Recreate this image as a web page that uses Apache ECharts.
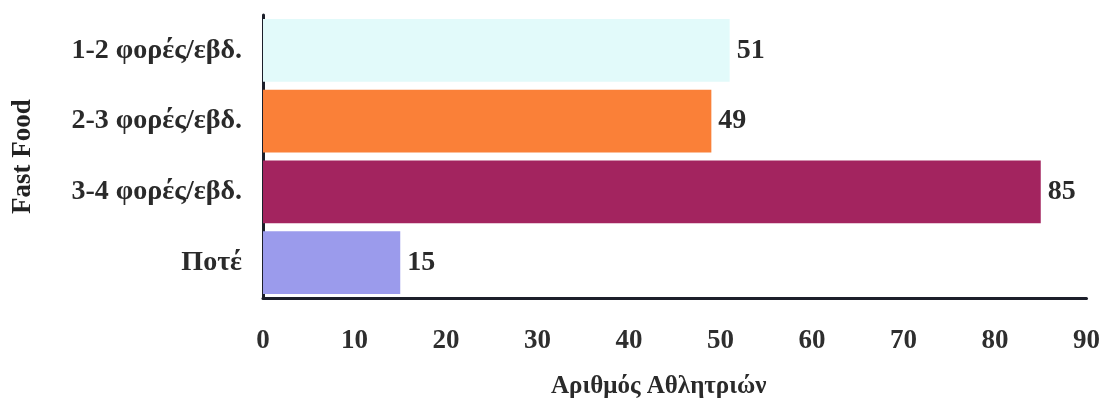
<!DOCTYPE html>
<html><head><meta charset="utf-8">
<script src="https://cdn.jsdelivr.net/npm/echarts@6/dist/echarts.min.js"></script>
<style>html,body{margin:0;padding:0;background:#fff}#c{width:1103px;height:404px}</style>
</head><body><div id="c"></div>
<script>
const categories = ['1-2 φορές/εβδ.', '2-3 φορές/εβδ.', '3-4 φορές/εβδ.', 'Ποτέ'];
const values = [51, 49, 85, 15];
const colors = ['#e2fafa', '#fa8038', '#a3245f', '#9b9bec'];
const xTicks = [0, 10, 20, 30, 40, 50, 60, 70, 80, 90];

const font = '"Liberation Serif", "DejaVu Serif", serif';
const chart = echarts.init(document.getElementById('c'));
chart.setOption({
  animation: false,
  grid: { left: 263, right: 16, top: 15, bottom: 106, containLabel: false },
  xAxis: {
    type: 'value', min: xTicks[0], max: xTicks[xTicks.length - 1], interval: 10,
    name: 'Αριθμός Αθλητριών', nameLocation: 'middle', nameGap: 76,
    nameTextStyle: { fontFamily: font, fontWeight: 'bold', fontSize: 25, color: '#2a2a2a', padding: [0, 32, 0, 0] },
    axisLine: { show: true, lineStyle: { color: '#1c1f2a', width: 3 } },
    axisTick: { show: false },
    splitLine: { show: false },
    axisLabel: { fontFamily: font, fontWeight: 'bold', fontSize: 27, color: '#2e2e2e', margin: 30 }
  },
  yAxis: {
    type: 'category', data: categories, inverse: true,
    name: 'Fast Food', nameLocation: 'middle', nameGap: 226, nameRotate: 90,
    nameTextStyle: { fontFamily: font, fontWeight: 'bold', fontSize: 27, color: '#222' },
    axisLine: { show: true, lineStyle: { color: '#1c1f2a', width: 3 } },
    axisTick: { show: false },
    axisLabel: { fontFamily: font, fontWeight: 'bold', fontSize: 28, color: '#2a2a2a', margin: 21 }
  },
  series: [{
    type: 'bar',
    data: values.map((v, i) => ({ value: v, itemStyle: { color: colors[i] } })),
    barCategoryGap: '11%',
    label: { show: true, position: 'right', distance: 7, fontFamily: font, fontWeight: 'bold', fontSize: 28, color: '#2a2a2a' }
  }]
});
</script></body></html>
